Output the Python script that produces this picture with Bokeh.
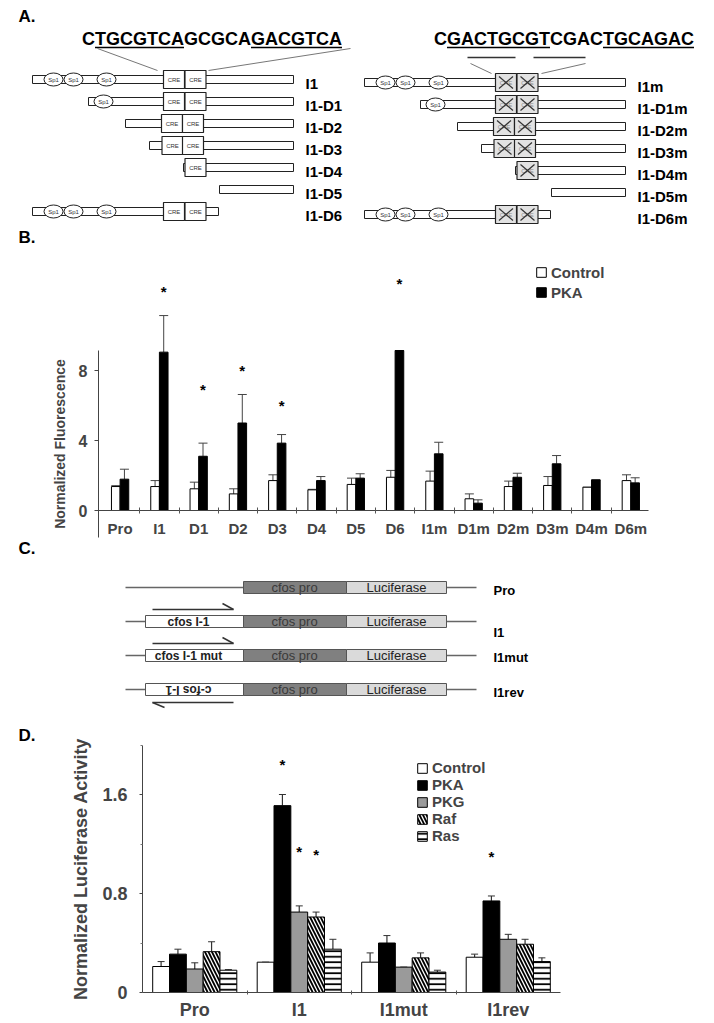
import numpy as np
from bokeh.plotting import figure
from bokeh.models import Range1d, LinearAxis, FixedTicker, ColumnDataSource, Whisker, TeeHead
from bokeh.layouts import column
from bokeh.core.properties import value
from bokeh.embed import file_html
from bokeh.resources import INLINE

FONT = "Liberation Sans"

# ======================= DATA =======================
# Panel A: c-fos intron-1 deletion constructs (diagram units)
A_constructs = ["I1", "I1-D1", "I1-D2", "I1-D3", "I1-D4", "I1-D5", "I1-D6"]
A_start = [32, 88, 125, 149, 183, 219, 32]
A_end = [293, 293, 293, 293, 293, 293, 218]
A_sp1 = [[53, 73, 106], [103], [], [], [], [], [53, 73, 106]]
A_cre = [[173.5, 195], [173.5, 195], [171.5, 192.5], [172, 192.5], [195], [], [173.5, 195]]
A_seq_wt = "CTGCGTCAGCGCAGACGTCA"
A_seq_mut = "CGACTGCGTCGACTGCAGAC"
A_wt_underlined = [(1, 7), (13, 19)]
A_mut_underlined = [(1, 8), (13, 19)]

# Panel B: normalized fluorescence
B_categories = ["Pro", "I1", "D1", "D2", "D3", "D4", "D5", "D6",
                "I1m", "D1m", "D2m", "D3m", "D4m", "D6m"]
B_control = [1.37, 1.37, 1.24, 0.95, 1.71, 1.18, 1.49, 1.90, 1.68, 0.67, 1.37, 1.43, 1.33, 1.71]
B_control_err = [0.05, 0.34, 0.38, 0.29, 0.33, 0.03, 0.36, 0.39, 0.57, 0.28, 0.31, 0.51, 0.0, 0.33]
B_pka = [1.79, 9.05, 3.10, 5.00, 3.85, 1.71, 1.85, 9.14, 3.24, 0.42, 1.90, 2.67, 1.75, 1.58]
B_pka_err = [0.57, 2.09, 0.75, 1.63, 0.49, 0.23, 0.25, 0.0, 0.66, 0.19, 0.23, 0.47, 0.0, 0.29]
B_star_cats = ["I1", "D1", "D2", "D3", "D6"]
B_star_y = [12.6, 6.95, 8.04, 6.06, 13.05]

# Panel C: luciferase reporter constructs
C_constructs = ["Pro", "I1", "I1mut", "I1rev"]
C_insert = ["", "cfos I-1", "cfos I-1 mut", "c-fos I-1"]
C_direction = [0, 1, 1, -1]

# Panel D: normalized luciferase activity
D_categories = ["Pro", "I1", "I1mut", "I1rev"]
D_series = ["Control", "PKA", "PKG", "Raf", "Ras"]
D_control = [0.21, 0.245, 0.245, 0.285]
D_control_err = [0.04, 0.0, 0.075, 0.025]
D_pka = [0.31, 1.51, 0.40, 0.74]
D_pka_err = [0.04, 0.09, 0.06, 0.04]
D_pkg = [0.19, 0.65, 0.205, 0.43]
D_pkg_err = [0.05, 0.05, 0.0, 0.04]
D_raf = [0.33, 0.61, 0.28, 0.39]
D_raf_err = [0.08, 0.04, 0.04, 0.04]
D_ras = [0.18, 0.35, 0.165, 0.25]
D_ras_err = [0.005, 0.08, 0.015, 0.03]
D_star_cats = ["I1", "I1", "I1", "I1rev"]
D_star_series = ["PKA", "PKG", "Raf", "PKA"]
D_star_y = [1.85, 1.15, 1.12, 1.11]

# ======================= HELPERS =======================
W = 714
PAGE_LEFT, PAGE_RIGHT = 0, 714   # horizontal extent of every frame (reference pixels)


def add_text(p, xs, ys, texts, size, bold=True, align="left", baseline="middle",
             color="black", angle=0.0):
    p.text(x=list(xs), y=list(ys), text=list(texts), text_font=value(FONT),
           text_font_size=value(f"{size}px"), text_font_style="bold" if bold else "normal",
           text_align=align, text_baseline=baseline, text_color=color, angle=angle)


def span_range(lo_val, lo_px, hi_val, hi_px, total_lo, total_hi):
    unit = (hi_px - lo_px) / (hi_val - lo_val)
    return Range1d(lo_val - (lo_px - total_lo) / unit, hi_val + (total_hi - hi_px) / unit)


def bare_fig(height, x_range, y_range):
    p = figure(width=W, height=height, x_range=x_range, y_range=y_range,
               x_axis_type=None, y_axis_type=None, toolbar_location=None,
               output_backend="svg", min_border=0, outline_line_color=None)
    p.grid.visible = False
    return p


def diagram_fig(top, bottom):
    return bare_fig(bottom - top, Range1d(PAGE_LEFT, PAGE_RIGHT), Range1d(bottom, top))


def style_legend(leg, loc, row_h):
    leg.location = loc
    leg.label_text_font = FONT
    leg.label_text_font_size = "15px"
    leg.label_text_font_style = "bold"
    leg.glyph_width = 12
    leg.glyph_height = 12
    leg.label_height = row_h
    leg.spacing = 0
    leg.padding = 0
    leg.margin = 0
    leg.label_standoff = 4
    leg.border_line_color = None
    leg.background_fill_alpha = 0


# ======================= PANEL A =======================
pA = diagram_fig(0, 247)
CHAR_W = {"A": 0.722, "C": 0.722, "G": 0.778, "T": 0.611}
SEQ_SIZE = 18


def char_edges(seq, center):
    w = np.array([CHAR_W[c] for c in seq]) * SEQ_SIZE
    left = center - w.sum() / 2
    return left + np.concatenate([[0], np.cumsum(w)])


rows = np.arange(len(A_constructs))
for shift, dy, mut in [(0, 0, False), (332, 3, True)]:
    ys = 79 + 22 * rows + dy
    pA.quad(left=[s + shift for s in A_start], right=[e + shift for e in A_end],
            top=ys - 4, bottom=ys + 4, fill_color="white", line_color="#222", line_width=1)
    sx, sy = [], []
    for i, lst in enumerate(A_sp1):
        for v in lst:
            sx.append(v + shift)
            sy.append(ys[i])
    pA.ellipse(x=sx, y=sy, width=19, height=13, fill_color="white", line_color="#222")
    add_text(pA, sx, sy, ["Sp1"] * len(sx), 6, bold=False, align="center", color="#333")
    cx, cy = [], []
    for i, lst in enumerate(A_cre):
        for v in lst:
            cx.append(v + shift)
            cy.append(ys[i])
    cx = np.array(cx)
    cy = np.array(cy)
    pA.rect(x=cx, y=cy, width=21, height=18, fill_color="#e2e2e2" if mut else "white",
            line_color="#222", line_width=1.2)
    add_text(pA, cx, cy, ["CRE"] * len(cx), 6, bold=False, align="center",
             color="#888" if mut else "#333")
    if mut:
        pA.segment(x0=np.concatenate([cx - 7, cx - 7]), y0=np.concatenate([cy - 6, cy + 6]),
                   x1=np.concatenate([cx + 7, cx + 7]), y1=np.concatenate([cy + 6, cy - 6]),
                   line_color="#333", line_width=1.2)
    names = [c + ("m" if mut else "") for c in A_constructs]
    add_text(pA, [305 + shift] * len(names), ys + 4, names, 15)

for seq, center, ul in [(A_seq_wt, 211.5, A_wt_underlined), (A_seq_mut, 563.5, A_mut_underlined)]:
    add_text(pA, [center], [38], [seq], SEQ_SIZE, align="center")
    e = char_edges(seq, center)
    pA.segment(x0=[e[a] for a, b in ul], x1=[e[b + 1] for a, b in ul], y0=[47] * len(ul),
               y1=[47] * len(ul), line_color="black", line_width=1.5)
pA.segment(x0=[97, 350, 470, 585], y0=[48, 48, 63, 63], x1=[157, 208, 491, 541], y1=[70, 70, 73, 73],
           line_color="#777", line_width=1)
pA.segment(x0=[467, 533], y0=[57, 57], x1=[515, 585], y1=[57, 57], line_color="#333", line_width=1.3)
add_text(pA, [18, 18], [16, 237], ["A.", "B."], 17)

# ======================= PANEL B =======================
B_lo, B_hi = -0.55, len(B_categories) - 0.55
pB = bare_fig(293, span_range(B_lo, 98, B_hi, 648, PAGE_LEFT, PAGE_RIGHT), Range1d(-1.714, 15.03))
xb = np.arange(len(B_categories))
BW = 0.22
pB.vbar(x=xb - BW / 2, top=B_control, width=BW, bottom=0, fill_color="white",
        line_color="black", line_width=1, legend_label="Control")
pB.vbar(x=xb + BW / 2, top=B_pka, width=BW, bottom=0, fill_color="black",
        line_color="black", line_width=1, legend_label="PKA")
b_src = ColumnDataSource(dict(
    x=np.concatenate([xb - BW / 2, xb + BW / 2]),
    lower=np.concatenate([B_control, B_pka]),
    upper=np.concatenate([np.array(B_control) + np.array(B_control_err),
                          np.array(B_pka) + np.array(B_pka_err)])))
pB.add_layout(Whisker(source=b_src, base="x", lower="lower", upper="upper", dimension="height",
                      lower_head=None, upper_head=TeeHead(size=9, line_color="#444", line_width=1),
                      line_color="#444", line_width=1))
star_x = [B_categories.index(c) + BW / 2 for c in B_star_cats]
pB.text(x=star_x, y=B_star_y, text=["*"] * len(star_x), text_font=value(FONT),
        text_font_size=value("15px"), text_font_style="bold", text_align="center",
        text_baseline="middle", y_offset=1)

xaxB = LinearAxis(ticker=FixedTicker(ticks=list(xb), minor_ticks=list(xb[:-1] + 0.5)),
                  major_label_overrides={int(i): c for i, c in enumerate(B_categories)},
                  fixed_location=0, bounds=(B_lo, B_hi), major_tick_line_color=None,
                  major_tick_out=0, major_tick_in=0, minor_tick_in=3, minor_tick_out=3,
                  minor_tick_line_color="#555", major_label_standoff=6,
                  major_label_text_font=FONT, major_label_text_font_size="15px",
                  major_label_text_font_style="bold", axis_line_color="#444")
pB.add_layout(xaxB, "below")
yaxB = LinearAxis(ticker=FixedTicker(ticks=[0, 4, 8]), bounds=(-1.55, 9.14), fixed_location=B_lo,
                  major_tick_in=0, major_tick_out=4, minor_tick_line_color=None,
                  axis_label="Normalized Fluorescence", axis_label_text_font=FONT,
                  axis_label_text_font_size="14px", axis_label_text_font_style="bold",
                  axis_label_standoff=8, major_label_text_font=FONT,
                  major_label_text_font_size="16px", major_label_text_font_style="bold",
                  major_label_standoff=7, axis_line_color="#444", major_tick_line_color="#444")
pB.add_layout(yaxB, "left")
style_legend(pB.legend[0], (535 - PAGE_LEFT, 238), 20)

# ======================= PANEL C =======================
pC = diagram_fig(540, 722)
C_row_y = 587 + 34 * np.arange(len(C_constructs))
C_label_dy = [3, 11, 2, 3]
has_ins = [t != "" for t in C_insert]
pC.segment(x0=[125] * 4 + [446] * 4, x1=[145 if h else 243 for h in has_ins] + [476] * 4,
           y0=list(C_row_y) * 2, y1=list(C_row_y) * 2, line_color="#666", line_width=1.3)
ins_y = [y for y, h in zip(C_row_y, has_ins) if h]
pC.quad(left=145, right=243, top=np.array(ins_y) - 6, bottom=np.array(ins_y) + 6,
        fill_color="white", line_color="#555")
pC.quad(left=243, right=346, top=C_row_y - 6, bottom=C_row_y + 6, fill_color="#808080",
        line_color="#555")
pC.quad(left=346, right=446, top=C_row_y - 6, bottom=C_row_y + 6, fill_color="#dadada",
        line_color="#555")
add_text(pC, [294] * 4, C_row_y, ["cfos pro"] * 4, 13, bold=False, align="center", color="#3a3a3a")
add_text(pC, [396] * 4, C_row_y, ["Luciferase"] * 4, 13, bold=False, align="center", color="#222")
for t, y, d in zip(C_insert, C_row_y, C_direction):
    if t:
        add_text(pC, [188], [y], [t], 12, bold=True, align="center", color="#222",
                 angle=np.pi if d < 0 else 0.0)
for y, d in zip(C_row_y, C_direction):
    if d > 0:
        pC.segment(x0=[152, 222], y0=[y - 12, y - 18], x1=[233, 233], y1=[y - 12, y - 12],
                   line_color="#333", line_width=1.5)
    elif d < 0:
        pC.segment(x0=[152, 152], y0=[y + 13, y + 13], x1=[233, 164], y1=[y + 13, y + 18],
                   line_color="#333", line_width=1.5)
add_text(pC, [493] * 4, C_row_y + np.array(C_label_dy), C_constructs, 13)
add_text(pC, [18], [548], ["C."], 17)

# ======================= PANEL D =======================
D_lo, D_hi = -0.5, len(D_categories) - 0.5
D_TOP, D_BOTTOM, D_ZERO_PX, D_UNIT = 722, 1021, 992, 123.75
pD = bare_fig(D_BOTTOM - D_TOP, span_range(D_lo, 142, D_hi, 560, PAGE_LEFT, PAGE_RIGHT),
              Range1d((D_ZERO_PX - D_BOTTOM) / D_UNIT, (D_ZERO_PX - D_TOP) / D_UNIT))
xd = np.arange(len(D_categories))
DW = 0.161
D_vals = [D_control, D_pka, D_pkg, D_raf, D_ras]
D_errs = [D_control_err, D_pka_err, D_pkg_err, D_raf_err, D_ras_err]
D_fill = ["white", "black", "#9a9a9a", "white", "white"]
D_hatch = [None, None, None, "\\", "-"]
D_hatch_scale = [None, None, None, 7.0, 5.5]
wx, wl, wu = [], [], []
for k, (name, vals, errs) in enumerate(zip(D_series, D_vals, D_errs)):
    off = (k - 2) * DW
    kw = {}
    if D_hatch[k]:
        kw = dict(hatch_pattern=D_hatch[k], hatch_color="black", hatch_scale=D_hatch_scale[k],
                  hatch_weight=1.8)
    pD.vbar(x=xd + off, top=vals, width=DW, bottom=0, fill_color=D_fill[k], line_color="black",
            line_width=1, legend_label=name, **kw)
    wx += list(xd + off)
    wl += list(vals)
    wu += list(np.array(vals) + np.array(errs))
d_src = ColumnDataSource(dict(x=wx, lower=wl, upper=wu))
pD.add_layout(Whisker(source=d_src, base="x", lower="lower", upper="upper", dimension="height",
                      lower_head=None, upper_head=TeeHead(size=7, line_color="#333", line_width=1),
                      line_color="#333", line_width=1.2))
dsx = [D_categories.index(c) + (D_series.index(s) - 2) * DW for c, s in zip(D_star_cats, D_star_series)]
pD.text(x=dsx, y=D_star_y, text=["*"] * len(dsx), text_font=value(FONT),
        text_font_size=value("15px"), text_font_style="bold", text_align="center",
        text_baseline="middle", y_offset=1)

xaxD = LinearAxis(ticker=FixedTicker(ticks=list(xd), minor_ticks=list(xd[:-1] + 0.5)),
                  major_label_overrides={int(i): c for i, c in enumerate(D_categories)},
                  fixed_location=0, bounds=(D_lo, D_hi), major_tick_line_color=None,
                  major_tick_out=0, major_tick_in=0, minor_tick_in=2, minor_tick_out=2,
                  minor_tick_line_color="#555", major_label_standoff=5,
                  major_label_text_font=FONT, major_label_text_font_size="18px",
                  major_label_text_font_style="bold", axis_line_color="#444")
pD.add_layout(xaxD, "below")
yaxD = LinearAxis(ticker=FixedTicker(ticks=[0, 0.8, 1.6], minor_ticks=[0.4, 1.2, 2.0]),
                  bounds=(0, 2.0), fixed_location=D_lo, major_label_overrides={0: "0"},
                  major_tick_in=0, major_tick_out=3, minor_tick_in=0, minor_tick_out=2,
                  axis_label="Normalized Luciferase Activity", axis_label_text_font=FONT,
                  axis_label_text_font_size="18px", axis_label_text_font_style="bold",
                  axis_label_standoff=8, major_label_text_font=FONT,
                  major_label_text_font_size="18px", major_label_text_font_style="bold",
                  major_label_standoff=12, axis_line_color="#444", major_tick_line_color="#444",
                  minor_tick_line_color="#777")
pD.add_layout(yaxD, "left")
style_legend(pD.legend[0], (416 - PAGE_LEFT, D_BOTTOM - 844), 17)
pD.text(x=[D_lo], y=[(D_ZERO_PX - 735) / D_UNIT], text=["D."], text_font=value(FONT),
        text_font_size=value("17px"), text_font_style="bold", text_align="left",
        text_baseline="middle", x_offset=18 - 142)

layout = column(pA, pB, pC, pD)
with open("out.html", "w") as f:
    f.write(file_html(layout, INLINE))
